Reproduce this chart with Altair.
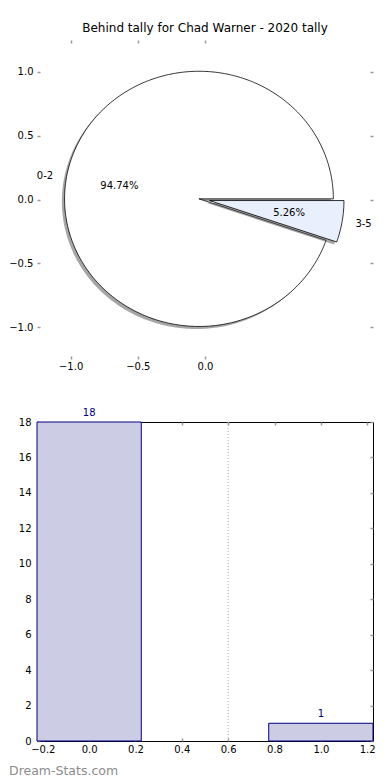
import math
import numpy as np
import pandas as pd
import altair as alt

# ---------------- data ----------------
TITLE = "Behind tally for Chad Warner - 2020 tally"
pie_labels = ["0-2", "3-5"]
pie_counts = [18, 1]
pie_fills = ["#ffffff", "#e9effc"]
pie_explode = [0.0, 0.08]
pie_x_ticks = [-1.0, -0.5, 0.0]
pie_y_ticks = [-1.0, -0.5, 0.0, 0.5, 1.0]

bar_positions = [0, 1]
bar_counts = [18, 1]
bar_x_ticks = [-0.2, 0.0, 0.2, 0.4, 0.6, 0.8, 1.0, 1.2]
bar_y_ticks = [0, 2, 4, 6, 8, 10, 12, 14, 16, 18]
ref_line_x = [0.6]
watermark = ["Dream-Stats.com"]

# ---------------- style ----------------
FONT = "DejaVu Sans"
W, H = 336, 319
CX, CY = -0.045, 0.005
BAR_W = 0.45
SHADOW_DX, SHADOW_DY = -0.02, -0.02
TICK_COLOR = "#9a9a9a"

# ---------------- pie geometry from the counts ----------------
total = sum(pie_counts)
poly_rows, label_rows = [], []
start = 0.0
for lab, cnt, exp in zip(pie_labels, pie_counts, pie_explode):
    span = 360.0 * cnt / total
    mid = math.radians(start + span / 2)
    ox, oy = CX + exp * math.cos(mid), CY + exp * math.sin(mid)
    angs = np.radians(np.linspace(start, start + span, max(4, int(span) + 1)))
    xs = [ox] + list(ox + np.cos(angs)) + [ox]
    ys = [oy] + list(oy + np.sin(angs)) + [oy]
    for k, (x, y) in enumerate(zip(xs, ys)):
        poly_rows.append(dict(slice=lab, part="shadow", k=k, x=x + SHADOW_DX, y=y + SHADOW_DY))
        poly_rows.append(dict(slice=lab, part="wedge", k=k, x=x, y=y))
    label_rows.append(dict(
        slice=lab,
        lx=ox + 1.1 * math.cos(mid), ly=oy + 1.1 * math.sin(mid),
        px=ox + 0.6 * math.cos(mid), py=oy + 0.6 * math.sin(mid),
        pct=f"{100.0 * cnt / total:.2f}%",
        side="left" if math.cos(mid) < 0 else "right",
    ))
    start += span
poly = pd.DataFrame(poly_rows)
labels_df = pd.DataFrame(label_rows)


def axis_def(orient, values, labels=True, fmt=".1f", pad=4):
    kw = dict(orient=orient, values=values, offset=-3, tickSize=3, tickColor=TICK_COLOR,
              tickWidth=1.5, domain=False, grid=False, labels=labels)
    if labels:
        kw.update(format=fmt, labelFont=FONT, labelFontSize=10, labelColor="#000000",
                  labelPadding=pad, labelFlush=False, labelOverlap=False)
    return alt.Axis(**kw)


# ---------------- pie panel ----------------
px_scale = alt.Scale(domain=[-1.25, 1.25], nice=False, zero=False)
py_scale = alt.Scale(domain=[-1.25, 1.25], nice=False, zero=False)

axes_sets = [
    (axis_def("bottom", pie_x_ticks, pad=2), axis_def("left", pie_y_ticks, pad=4)),
    (axis_def("top", pie_x_ticks, labels=False), axis_def("right", pie_y_ticks, labels=False)),
]

pie_layers = []
idx = 0
for lab, fill in zip(pie_labels, pie_fills):
    for part in ["shadow", "wedge"]:
        d = poly[(poly["slice"] == lab) & (poly["part"] == part)]
        if idx < 2:
            ax_x, ax_y = axes_sets[idx]
        else:
            ax_x, ax_y = None, None
        if part == "shadow":
            mk = alt.Chart(d).mark_line(fill="#4d4d4d", fillOpacity=0.5, stroke="transparent",
                                        interpolate="linear-closed")
        else:
            mk = alt.Chart(d).mark_line(fill=fill, stroke="#000000", strokeWidth=0.8,
                                        interpolate="linear-closed")
        pie_layers.append(mk.encode(
            x=alt.X("x:Q", scale=px_scale, axis=ax_x, title=None),
            y=alt.Y("y:Q", scale=py_scale, axis=ax_y, title=None),
            order="k:Q",
        ))
        idx += 1

for side, align in [("left", "right"), ("right", "left")]:
    pie_layers.append(
        alt.Chart(labels_df[labels_df["side"] == side]).mark_text(
            align=align, baseline="middle", font=FONT, fontSize=10, color="#000000"
        ).encode(
            x=alt.X("lx:Q", scale=px_scale, axis=None),
            y=alt.Y("ly:Q", scale=py_scale, axis=None),
            text="slice:N",
        )
    )
pie_layers.append(
    alt.Chart(labels_df).mark_text(
        align="center", baseline="middle", font=FONT, fontSize=10, color="#000000"
    ).encode(
        x=alt.X("px:Q", scale=px_scale, axis=None),
        y=alt.Y("py:Q", scale=py_scale, axis=None),
        text="pct:N",
    )
)

pie = alt.layer(*pie_layers).resolve_axis(x="independent", y="independent").properties(
    width=W, height=H,
    title=alt.TitleParams(TITLE, font=FONT, fontSize=12, fontWeight="normal",
                          color="#000000", offset=4, anchor="middle"),
)

# ---------------- bar panel ----------------
bar_df = pd.DataFrame({"pos": bar_positions, "count": bar_counts})
bar_df["left"] = bar_df["pos"] - BAR_W / 2
bar_df["right"] = bar_df["pos"] + BAR_W / 2
bar_df["base"] = 0
bar_df["label"] = bar_df["count"].astype(str)

bx_scale = alt.Scale(domain=[-0.225, 1.225], nice=False, zero=False)
by_scale = alt.Scale(domain=[0, 18], nice=False, zero=True)

bars = alt.Chart(bar_df).mark_rect(fill="#ccccE5", stroke="#000080", strokeWidth=1).encode(
    x=alt.X("left:Q", scale=bx_scale, axis=axis_def("bottom", bar_x_ticks, pad=3), title=None),
    x2="right:Q",
    y=alt.Y("count:Q", scale=by_scale, axis=axis_def("left", bar_y_ticks, fmt="d", pad=6), title=None),
    y2="base:Q",
)

ref_rule = alt.Chart(pd.DataFrame({"x": ref_line_x})).mark_rule(
    strokeDash=[1, 2], color="#b0b0b0", strokeWidth=1
).encode(x=alt.X("x:Q", scale=bx_scale, axis=None))

bar_text = alt.Chart(bar_df).mark_text(
    dy=-9.5, baseline="middle", align="center", font=FONT, fontSize=10, color="#000080"
).encode(
    x=alt.X("pos:Q", scale=bx_scale, axis=axis_def("top", bar_x_ticks, labels=False), title=None),
    y=alt.Y("count:Q", scale=by_scale, axis=axis_def("right", bar_y_ticks, labels=False), title=None),
    text="label:N",
)

wm = alt.Chart(pd.DataFrame({"t": watermark})).mark_text(
    align="left", baseline="middle", font=FONT, fontSize=12.5, color="#8c8c8c"
).encode(x=alt.value(-28), y=alt.value(H + 30), text="t:N")

bar = alt.layer(ref_rule, bars, bar_text, wm).resolve_axis(
    x="independent", y="independent"
).properties(
    width=W, height=H,
    view=alt.ViewBackground(stroke="#000000", strokeWidth=1),
)

chart = alt.vconcat(pie, bar, spacing=63, bounds="flush").properties(
    padding={"left": 0, "top": 13, "right": 0, "bottom": 0}
).configure(font=FONT).configure_view(stroke="transparent")

chart.save("out.html", embed_options={"renderer": "svg", "actions": False})
